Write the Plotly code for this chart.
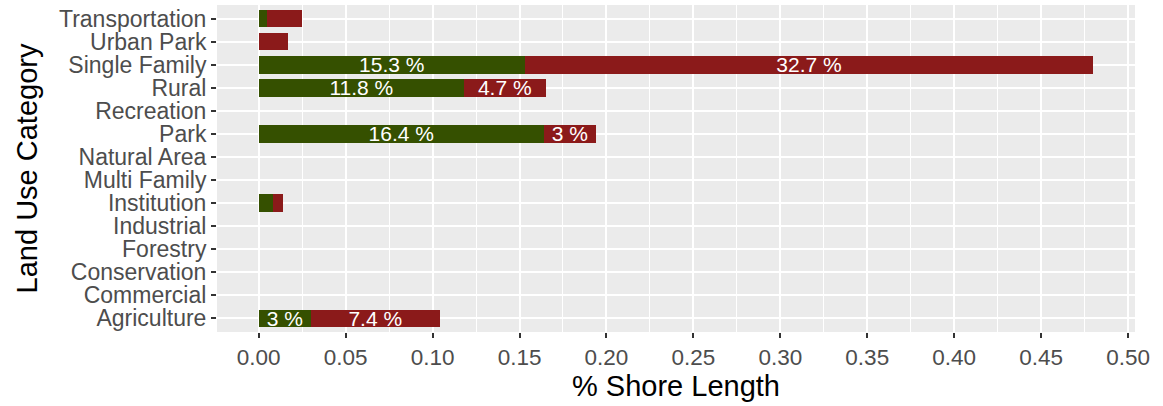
import plotly.graph_objects as go

# Land use categories, bottom to top
categories = [
    "Agriculture", "Commercial", "Conservation", "Forestry", "Industrial",
    "Institution", "Multi Family", "Natural Area", "Park", "Recreation",
    "Rural", "Single Family", "Urban Park", "Transportation",
]

# Share of shore length per category, split into two classes
green_share = [0.030, 0, 0, 0, 0, 0.008, 0, 0, 0.164, 0, 0.118, 0.153, 0, 0.005]
red_share = [0.074, 0, 0, 0, 0, 0.006, 0, 0, 0.030, 0, 0.047, 0.327, 0.017, 0.020]

x_ticks = [0.00, 0.05, 0.10, 0.15, 0.20, 0.25, 0.30, 0.35, 0.40, 0.45, 0.50]

GREEN = "#355000"
RED = "#8B1A1A"
FONT = "Liberation Sans, Arial, sans-serif"


def pct_label(v):
    # only label segments of at least 3 %
    if v < 0.03 - 1e-9:
        return ""
    return f"{round(v * 100, 1):g} %"


fig = go.Figure()
for vals, color in ((green_share, GREEN), (red_share, RED)):
    fig.add_trace(go.Bar(
        y=categories,
        x=vals,
        orientation="h",
        marker=dict(color=color, line=dict(width=0)),
        width=0.75,
        text=[pct_label(v) for v in vals],
        textposition="inside",
        insidetextanchor="middle",
        constraintext="none",
        textangle=0,
        textfont=dict(family=FONT, size=21, color="white"),
        cliponaxis=False,
        showlegend=False,
        hoverinfo="skip",
    ))

fig.update_layout(
    barmode="stack",
    width=1163,
    height=406,
    margin=dict(l=217, r=28, t=5, b=74),
    paper_bgcolor="white",
    plot_bgcolor="#EBEBEB",
    font=dict(family=FONT, color="#4D4D4D"),
    bargap=0.25,
)

fig.update_xaxes(
    range=[-0.024, 0.504],
    tickvals=x_ticks,
    ticktext=[f"{t:.2f}" for t in x_ticks],
    tickfont=dict(family=FONT, size=22.5, color="#4D4D4D"),
    ticks="outside",
    ticklen=5,
    tickwidth=2,
    tickcolor="#333333",
    showgrid=True,
    gridcolor="white",
    gridwidth=2,
    minor=dict(
        tickvals=[0.025 + 0.05 * i for i in range(10)],
        showgrid=True,
        gridcolor="white",
        gridwidth=1,
        ticks="",
    ),
    zeroline=False,
    showline=False,
    automargin=False,
    title=dict(text="% Shore Length", font=dict(family=FONT, size=29, color="black"), standoff=1),
)

fig.update_yaxes(
    categoryorder="array",
    categoryarray=categories,
    tickmode="array",
    tickvals=categories,
    ticktext=categories,
    range=[-0.6, len(categories) - 0.4],
    tickfont=dict(family=FONT, size=23, color="#4D4D4D"),
    ticks="outside",
    ticklen=5,
    tickwidth=2,
    tickcolor="#333333",
    showgrid=True,
    gridcolor="white",
    gridwidth=2,
    zeroline=False,
    showline=False,
    automargin=False,
    title=dict(text="Land Use Category", font=dict(family=FONT, size=29, color="black"), standoff=12),
)

fig.write_html("out.html")
